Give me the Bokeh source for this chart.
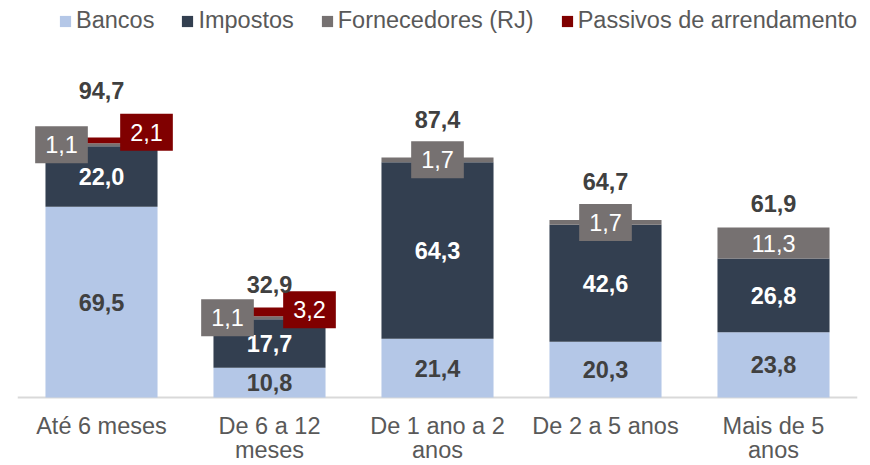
from bokeh.plotting import figure
from bokeh.models import ColumnDataSource, FactorRange, Range1d, Legend, LegendItem, Span
from bokeh.core.properties import value
from bokeh.embed import file_html
from bokeh.resources import INLINE

# ---- data ----
cats = ["Até 6 meses", "De 6 a 12 meses", "De 1 ano a 2 anos", "De 2 a 5 anos", "Mais de 5 anos"]
cat_labels = ["Até 6 meses", "De 6 a 12\nmeses", "De 1 ano a 2\nanos", "De 2 a 5 anos", "Mais de 5\nanos"]
bancos = [69.5, 10.8, 21.4, 20.3, 23.8]
impostos = [22.0, 17.7, 64.3, 42.6, 26.8]
fornecedores = [1.1, 1.1, 1.7, 1.7, 11.3]
passivos = [2.1, 3.2, 0.0, 0.0, 0.0]
totais = [94.7, 32.9, 87.4, 64.7, 61.9]
series = ["Bancos", "Impostos", "Fornecedores (RJ)", "Passivos de arrendamento"]

# ---- styles ----
colors = ["#B4C7E7", "#333F50", "#767171", "#800000"]
FONT = value("Liberation Sans")
FS = "23.5px"
forn_dx = [-40, -42, 0, 0, 0]
pas_dx = [45, 40, 0, 0, 0]
pas_dy = [-8, -2, 0, 0, 0]
total_dy = [-47, -23, -38, -39, -24]
LINE1_DY = 28
LINE2_DY = 52


def fmt(v):
    return f"{v:.1f}".replace(".", ",")


keys = ["bancos", "impostos", "fornecedores", "passivos"]
src = ColumnDataSource(dict(cat=cats, bancos=bancos, impostos=impostos,
                            fornecedores=fornecedores, passivos=passivos))

SCALE = 2.746  # px per unit
BASE = 397     # baseline pixel row
H = 465
p = figure(x_range=FactorRange(*cats, range_padding=0),
           y_range=Range1d(-(H - BASE) / SCALE, BASE / SCALE),
           width=870, height=H, output_backend="svg", toolbar_location=None,
           min_border_left=17, min_border_right=13, min_border_top=0, min_border_bottom=0)
p.outline_line_color = None
p.grid.visible = False
p.axis.visible = False
p.background_fill_color = "white"

# category axis line
p.add_layout(Span(location=0, dimension="width", line_color="#D9D9D9",
                  line_width=2, level="underlay"))

rs = p.vbar_stack(keys, x="cat", width=0.667, color=colors, source=src,
                  line_color=None)

# category labels (two lines)
l1 = [l.split("\n")[0] for l in cat_labels]
two = [k for k, l in enumerate(cat_labels) if "\n" in l]
p.text(x=cats, y=[0] * len(cats), text=l1, y_offset=LINE1_DY,
       text_align="center", text_baseline="alphabetic", text_font=FONT,
       text_font_size=FS, text_color="#595959")
p.text(x=[cats[k] for k in two], y=[0] * len(two),
       text=[cat_labels[k].split("\n")[1] for k in two], y_offset=LINE2_DY,
       text_align="center", text_baseline="alphabetic", text_font=FONT,
       text_font_size=FS, text_color="#595959")

# cumulative positions
b_mid, i_mid, f_mid, p_mid, tops = [], [], [], [], []
for b, i, f, pa in zip(bancos, impostos, fornecedores, passivos):
    b_mid.append(b / 2)
    i_mid.append(b + i / 2)
    f_mid.append(b + i + f / 2)
    p_mid.append(b + i + f + pa / 2)
    tops.append(b + i + f + pa)

# Bancos labels
p.text(x=cats, y=b_mid, text=[fmt(v) for v in bancos], text_align="center",
       text_baseline="middle", text_font=FONT, text_font_size=FS,
       text_font_style="bold", text_color="#404040")
# Impostos labels
p.text(x=cats, y=i_mid, text=[fmt(v) for v in impostos], text_align="center",
       text_baseline="middle", text_font=FONT, text_font_size=FS,
       text_font_style="bold", text_color="white")

# Fornecedores labels: small -> boxed callout, big -> inside
fb = [k for k, v in enumerate(fornecedores) if v < 5]
fi = [k for k, v in enumerate(fornecedores) if v >= 5]
p.text(x=[cats[k] for k in fb], y=[f_mid[k] for k in fb],
       text=[fmt(fornecedores[k]) for k in fb], x_offset=[forn_dx[k] for k in fb],
       text_align="center", text_baseline="middle", text_font=FONT, text_font_size=FS,
       text_color="white", background_fill_color=colors[2], padding=(10, 10))
p.text(x=[cats[k] for k in fi], y=[f_mid[k] for k in fi],
       text=[fmt(fornecedores[k]) for k in fi],
       text_align="center", text_baseline="middle", text_font=FONT, text_font_size=FS,
       text_color="white")

# Passivos labels (boxed)
pb = [k for k, v in enumerate(passivos) if v > 0]
p.text(x=[cats[k] for k in pb], y=[p_mid[k] for k in pb],
       text=[fmt(passivos[k]) for k in pb], x_offset=[pas_dx[k] for k in pb],
       y_offset=[pas_dy[k] for k in pb],
       text_align="center", text_baseline="middle", text_font=FONT, text_font_size=FS,
       text_color="white", background_fill_color=colors[3], padding=(10, 10))

# totals
p.text(x=cats, y=tops, text=[fmt(v) for v in totais], y_offset=total_dy,
       text_align="center", text_baseline="middle", text_font=FONT, text_font_size=FS,
       text_font_style="bold", text_color="#404040")

legend = Legend(items=[LegendItem(label=s, renderers=[r]) for s, r in zip(series, rs)],
                orientation="horizontal", location=(41, 431), margin=0, padding=0,
                spacing=26, glyph_width=14, glyph_height=14, label_standoff=4,
                label_text_font="Liberation Sans", label_text_font_size=FS,
                label_text_color="#595959", border_line_color=None,
                background_fill_alpha=0)
p.add_layout(legend)

open("out.html", "w").write(file_html(p, INLINE))
